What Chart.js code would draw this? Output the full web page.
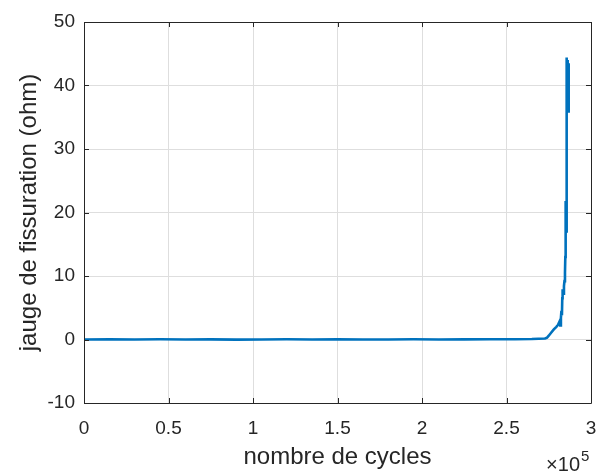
<!DOCTYPE html>
<html>
<head>
<meta charset="utf-8">
<script src="https://cdn.jsdelivr.net/npm/chart.js@4/dist/chart.umd.min.js"></script>
<style>
  body { margin: 0; background: #fff; }
  #wrap { width: 597px; height: 472px; }
</style>
</head>
<body>
<div id="wrap"><canvas id="fissChart"></canvas></div>
<script>
// nombre de cycles / jauge de fissuration (ohm)
var cycles = [0, 15000, 30000, 45000, 60000, 75000, 90000, 105000, 120000, 135000,
    150000, 165000, 180000, 195000, 210000, 225000, 240000, 255000, 265000, 272800,
    274000, 275000, 276500, 278000, 279500, 280500, 281500, 281800, 282200, 282500,
    282800, 283000, 283200, 283500, 284000, 284300, 284600, 284800, 284900, 285000,
    285100, 285300, 285500, 285700, 285900, 286100, 286300, 286500, 286700, 286800, 286900];
var gauge = [0, 0.02, -0.01, 0.03, 0, 0.02, -0.02, 0.01, 0.03, 0,
    0.02, -0.01, 0.01, 0.03, 0, 0.02, 0.04, 0.05, 0.08, 0.15,
    0.3, 0.6, 1.1, 1.6, 2.0, 2.3, 2.9, 2.2, 3.4, 4.5,
    3.8, 6.5, 7.9, 7.2, 8.4, 9.2, 10.5, 13, 21.8, 16,
    20, 17, 30, 44.4, 37, 44, 36, 43, 35.7, 43.5, 38];
var xTicks = [0, 0.5, 1, 1.5, 2, 2.5, 3];   // x 10^5
var yTicks = [-10, 0, 10, 20, 30, 40, 50];

var axisColor = '#262626';
var gridColor = '#dedede';
var fontName = '"Liberation Sans", Arial, sans-serif';

var points = cycles.map(function(c, i) { return { x: c, y: gauge[i] }; });

// MATLAB-like box, inward ticks and the x10^5 multiplier
var matlabAxes = {
    id: 'matlabAxes',
    afterDraw: function(chart) {
        var ctx = chart.ctx;
        var a = chart.chartArea;
        var xs = chart.scales.x, ys = chart.scales.y;
        ctx.save();
        ctx.strokeStyle = axisColor;
        ctx.lineWidth = 1;
        ctx.beginPath();
        ctx.rect(Math.round(a.left) + 0.5, Math.round(a.top) + 0.5,
            Math.round(a.right - a.left), Math.round(a.bottom - a.top));
        xTicks.forEach(function(t) {
            var px = Math.round(xs.getPixelForValue(t * 1e5)) + 0.5;
            ctx.moveTo(px, a.bottom); ctx.lineTo(px, a.bottom - 5);
            ctx.moveTo(px, a.top); ctx.lineTo(px, a.top + 5);
        });
        yTicks.forEach(function(t) {
            var py = Math.round(ys.getPixelForValue(t)) + 0.5;
            ctx.moveTo(a.left, py); ctx.lineTo(a.left + 5, py);
            ctx.moveTo(a.right, py); ctx.lineTo(a.right - 5, py);
        });
        ctx.stroke();

        ctx.fillStyle = axisColor;
        ctx.textBaseline = 'alphabetic';
        ctx.textAlign = 'right';
        ctx.font = '20px ' + fontName;
        ctx.fillText('\u00d710', 580, 471);
        ctx.textAlign = 'left';
        ctx.font = '15px ' + fontName;
        ctx.fillText('5', 581, 461);
        ctx.restore();
    }
};

var ctx = document.getElementById('fissChart').getContext('2d');
var chart = new Chart(ctx, {
    type: 'line',
    data: {
        datasets: [{
            label: 'jauge',
            data: points,
            borderColor: '#0072BD',
            backgroundColor: '#0072BD',
            borderWidth: 2.6,
            pointRadius: 0,
            tension: 0,
            fill: false
        }]
    },
    options: {
        responsive: true,
        maintainAspectRatio: false,
        animation: false,
        layout: { padding: { top: 22, right: 6, left: 0, bottom: 0 } },
        plugins: {
            legend: { display: false },
            tooltip: { enabled: false }
        },
        scales: {
            x: {
                type: 'linear',
                min: 0,
                max: 300000,
                afterFit: function(scale) {
                    scale.height = 69;
                    scale.paddingLeft = 0;
                    scale.paddingRight = 0;
                },
                afterBuildTicks: function(scale) {
                    scale.ticks = xTicks.map(function(t) { return { value: t * 1e5 }; });
                },
                ticks: {
                    color: axisColor,
                    font: { family: fontName, size: 19 },
                    padding: 14,
                    maxRotation: 0,
                    autoSkip: false,
                    callback: function(v) { return String(v / 1e5); }
                },
                grid: { color: gridColor, drawTicks: false },
                border: { display: false },
                title: {
                    display: true,
                    text: 'nombre de cycles',
                    color: axisColor,
                    font: { family: fontName, size: 24 },
                    padding: { top: 0, bottom: 0 }
                }
            },
            y: {
                min: -10,
                max: 50,
                afterFit: function(scale) {
                    scale.width = 84;
                    scale.paddingTop = 0;
                    scale.paddingBottom = 0;
                },
                afterBuildTicks: function(scale) {
                    scale.ticks = yTicks.map(function(t) { return { value: t }; });
                },
                ticks: {
                    color: axisColor,
                    font: { family: fontName, size: 19 },
                    padding: 9,
                    callback: function(v) { return String(v); }
                },
                grid: { color: gridColor, drawTicks: false },
                border: { display: false },
                title: {
                    display: true,
                    text: 'jauge de fissuration (ohm)',
                    color: axisColor,
                    font: { family: fontName, size: 24 },
                    padding: { top: 15, bottom: 0 }
                }
            }
        }
    },
    plugins: [matlabAxes]
});
</script>
</body>
</html>
